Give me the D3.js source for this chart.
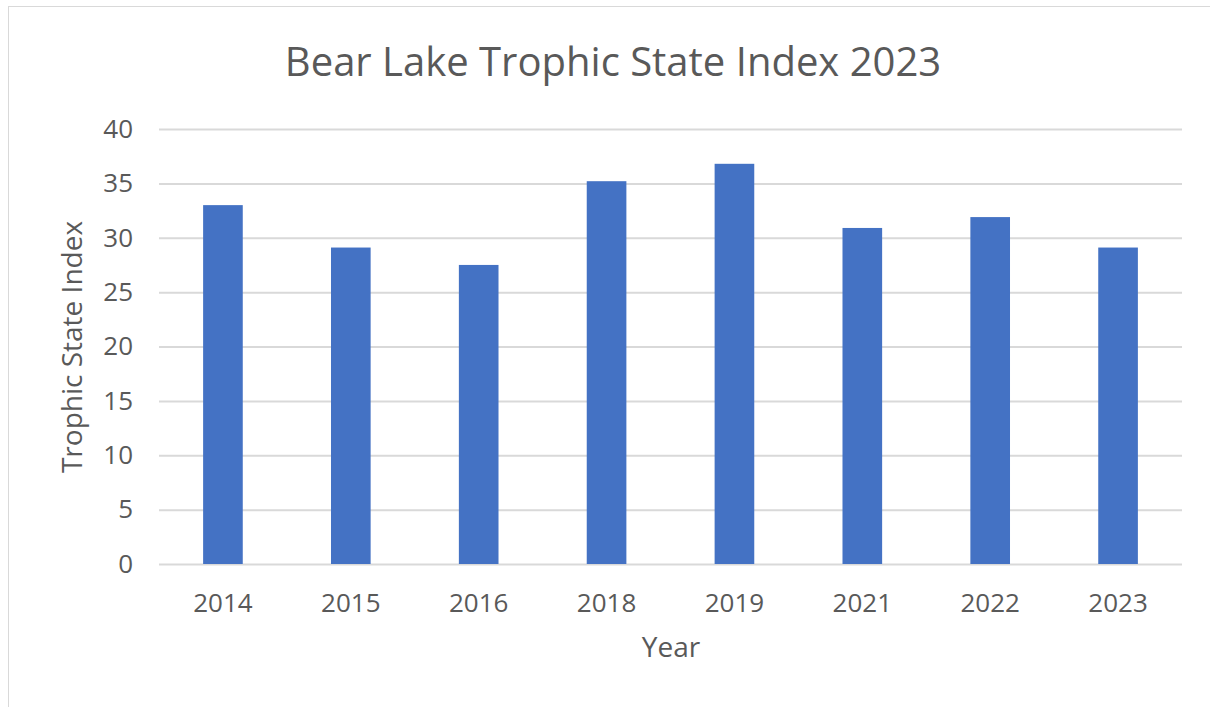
<!DOCTYPE html>
<html lang="en">
<head>
    <meta charset="UTF-8">
    <title>Bear Lake Trophic State Index 2023</title>
    <script src="https://d3js.org/d3.v7.min.js"></script>
    <style>
        body { margin: 0; background: #fff; }
        svg { display: block; font-family: "Open Sans", "Noto Sans", sans-serif; }
    </style>
</head>
<body>
    <svg width="1210" height="707"></svg>

    <script>
        const years = ["2014", "2015", "2016", "2018", "2019", "2021", "2022", "2023"];
        const tsi = [33.0, 29.1, 27.5, 35.2, 36.8, 30.9, 31.9, 29.1];
        const yTicks = [0, 5, 10, 15, 20, 25, 30, 35, 40];

        const svg = d3.select("svg");
        const margin = { top: 129, right: 28, bottom: 143, left: 159 };
        const width = +svg.attr("width");
        const height = +svg.attr("height");
        const textColor = "#595959";
        const font = '"Open Sans", "Noto Sans", sans-serif';

        // chart frame
        svg.append("rect")
            .attr("x", 8.5).attr("y", 6.5)
            .attr("width", 1210).attr("height", 710)
            .attr("fill", "none")
            .attr("stroke", "#d9d9d9");

        const xScale = d3.scaleBand()
            .domain(years)
            .range([margin.left, width - margin.right])
            .paddingInner(0.69)
            .paddingOuter(0.345);

        const yScale = d3.scaleLinear()
            .domain([0, 40])
            .range([height - margin.bottom, margin.top]);

        // gridlines + y labels
        const yAxis = svg.append("g")
            .attr("transform", `translate(${margin.left},0)`)
            .call(d3.axisLeft(yScale)
                .tickValues(yTicks)
                .tickSize(-(width - margin.left - margin.right))
                .tickPadding(26));
        yAxis.attr("font-family", font).attr("font-size", 26);
        yAxis.select(".domain").remove();
        yAxis.selectAll("line").attr("stroke", "#d9d9d9").attr("stroke-width", 2);
        yAxis.selectAll("text").attr("fill", textColor);

        svg.selectAll("rect.bar")
            .data(tsi)
            .enter()
            .append("rect")
            .attr("class", "bar")
            .attr("x", (d, i) => xScale(years[i]))
            .attr("y", d => yScale(d))
            .attr("width", xScale.bandwidth())
            .attr("height", d => yScale(0) - yScale(d))
            .attr("fill", "#4472c4");

        const xAxis = svg.append("g")
            .attr("transform", `translate(0,${height - margin.bottom})`)
            .call(d3.axisBottom(xScale).tickSize(0).tickPadding(30));
        xAxis.attr("font-family", font).attr("font-size", 26);
        xAxis.select(".domain").remove();
        xAxis.selectAll("text").attr("fill", textColor);

        svg.append("text")
            .attr("x", 613)
            .attr("y", 76)
            .attr("text-anchor", "middle")
            .attr("fill", textColor)
            .style("font-size", "40px")
            .text("Bear Lake Trophic State Index 2023");

        svg.append("text")
            .attr("x", 671)
            .attr("y", 657)
            .attr("text-anchor", "middle")
            .attr("fill", textColor)
            .style("font-size", "28px")
            .text("Year");

        svg.append("text")
            .attr("x", -347)
            .attr("y", 82)
            .attr("text-anchor", "middle")
            .attr("transform", "rotate(-90)")
            .attr("fill", textColor)
            .style("font-size", "28px")
            .text("Trophic State Index");
    </script>
</body>
</html>
